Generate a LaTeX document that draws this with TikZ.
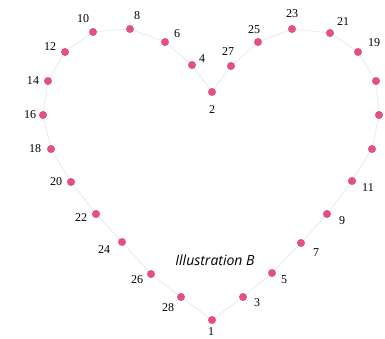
\documentclass[tikz,border=0pt]{standalone}
\usepackage{fontspec}
\setmainfont{Liberation Serif}
\newfontfamily\capfont{Open Sans}
\definecolor{dotpink}{RGB}{226,82,122}
\definecolor{faint}{RGB}{236,236,236}
\tikzset{
  dotmark/.style={circle,fill=dotpink,inner sep=0pt,minimum size=8pt},
  numlabel/.style={inner sep=0pt,font=\fontsize{12}{14}\selectfont},
  outline/.style={draw=faint,line width=0.9pt}
}
\begin{document}
\begin{tikzpicture}[x=1pt,y=-1pt]
\useasboundingbox[fill=white] (0,0) rectangle (385,339);
\foreach \n/\x/\y in {1/212/320,2/212/92,3/243/297,4/192/65,5/272/273,6/165/42,7/301/243,8/130/29,9/327/214,10/93/32,11/352/181,12/65/52,13/372/149,14/48/81,15/379/115,16/43/115,17/376/81,18/51/149,19/358/52,20/71/182,21/330/33,22/96/214,23/292/29,24/122/242,25/258/42,26/151/274,27/231/66,28/181/297}
  \coordinate (c\n) at (\x,\y);
\draw[outline] (c1) -- (c3) -- (c5) -- (c7) -- (c9) -- (c11) -- (c13) -- (c15) -- (c17) -- (c19) -- (c21) -- (c23) -- (c25) -- (c27) -- (c2) -- (c4) -- (c6) -- (c8) -- (c10) -- (c12) -- (c14) -- (c16) -- (c18) -- (c20) -- (c22) -- (c24) -- (c26) -- (c28) -- cycle;
\foreach \n in {1,...,28}
  \node[dotmark] (d\n) at (c\n) {};
\foreach \n/\x/\y in {1/211/332,2/212/110,3/257/303,4/202/59,5/284/280,6/177/34,7/316/253,8/137/16,9/342/221,10/83/19,11/368/188,12/50/47,14/33/81,16/30/115,18/35/149,19/374/43,20/56/182,21/343/22,22/81/218,23/292/14,24/104/250,25/254/30,26/137/280,27/228/52,28/168/308}
  \node[numlabel] (l\n) at (\x,\y) {\n};
\node[inner sep=0pt,font=\capfont\itshape\fontsize{14}{16}\selectfont] (title) at (215,260) {Illustration B};
\end{tikzpicture}
\end{document}
